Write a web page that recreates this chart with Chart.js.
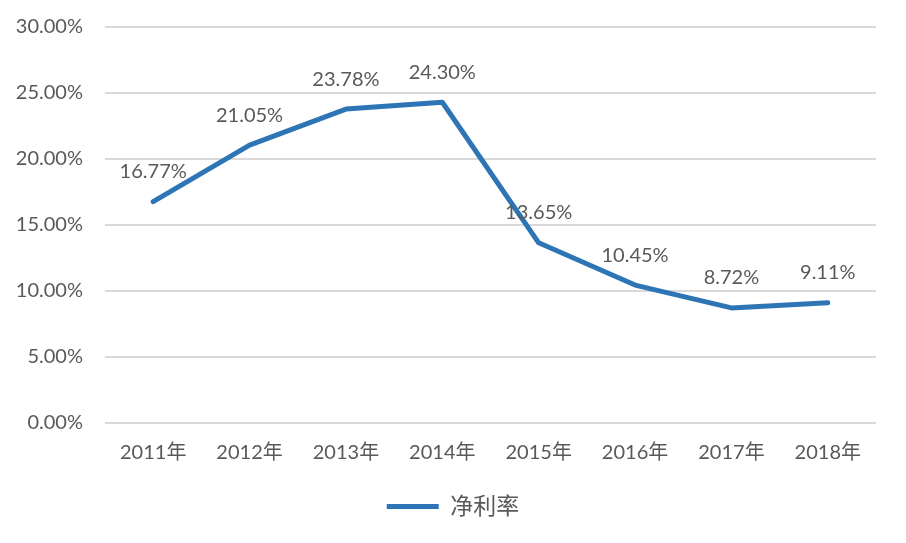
<!DOCTYPE html>
<html>
<head>
<meta charset="utf-8">
<script src="https://cdn.jsdelivr.net/npm/chart.js@4/dist/chart.umd.min.js"></script>
<style>
  html, body { margin: 0; padding: 0; background: #ffffff; }
  #wrap { width: 906px; height: 543px; position: relative; }
</style>
</head>
<body>
<div id="wrap"><canvas id="c" width="906" height="543"></canvas></div>
<script>
const categories = ['2011年', '2012年', '2013年', '2014年', '2015年', '2016年', '2017年', '2018年'];
const netMargin = [16.77, 21.05, 23.78, 24.30, 13.65, 10.45, 8.72, 9.11];
const seriesName = '净利率';
const yTicks = [0, 5, 10, 15, 20, 25, 30];

const FONT = "Lato, 'Noto Sans CJK SC', sans-serif";
const TEXT = '#595959';
const BLUE = '#2E75B6';

const labelPlugin = {
  id: 'valueLabels',
  afterDatasetsDraw(chart) {
    const ctx = chart.ctx;
    const meta = chart.getDatasetMeta(0);
    ctx.save();
    ctx.font = '20px ' + FONT;
    ctx.fillStyle = TEXT;
    ctx.textAlign = 'center';
    ctx.textBaseline = 'middle';
    meta.data.forEach((pt, i) => {
      ctx.fillText(netMargin[i].toFixed(2) + '%', pt.x, pt.y - 30);
    });
    ctx.restore();
  }
};

new Chart(document.getElementById('c'), {
  type: 'line',
  data: {
    labels: categories,
    datasets: [{
      label: seriesName,
      data: netMargin,
      yAxisID: 'y',
      borderColor: BLUE,
      backgroundColor: BLUE,
      borderWidth: 5,
      borderCapStyle: 'round',
      borderJoinStyle: 'round',
      pointRadius: 0,
      pointHoverRadius: 0,
      tension: 0,
      fill: false
    }]
  },
  options: {
    responsive: false,
    animation: false,
    events: [],
    layout: { padding: { left: 0, right: 0, top: 27, bottom: 15 } },
    scales: {
      x: {
        offset: true,
        grid: { display: false },
        border: { display: false },
        ticks: { color: TEXT, font: { family: FONT, size: 20 }, padding: 10, maxRotation: 0 },
        afterFit(scale) { scale.height = 62; }
      },
      y: {
        position: 'left',
        min: 0, max: 30,
        afterBuildTicks(scale) { scale.ticks = yTicks.map(v => ({ value: v })); },
        grid: { color: '#d9d9d9', lineWidth: 2, drawTicks: true, tickLength: 22, tickColor: 'rgba(0,0,0,0)' },
        border: { display: false },
        ticks: {
          color: TEXT, font: { family: FONT, size: 20 }, padding: 0,
          callback: v => v.toFixed(2) + '%'
        },
        afterFit(scale) { scale.width = 105; }
      },
      yRight: {
        position: 'right',
        min: 0, max: 30,
        grid: { display: false },
        border: { display: false },
        ticks: { display: false },
        afterFit(scale) { scale.width = 30; }
      }
    },
    plugins: {
      legend: {
        position: 'bottom',
        labels: {
          usePointStyle: true,
          pointStyle: 'line',
          pointStyleWidth: 52,
          color: TEXT,
          font: { family: FONT, size: 23 },
          padding: 10
        }
      },
      tooltip: { enabled: false }
    }
  },
  plugins: [labelPlugin]
});
</script>
</body>
</html>
